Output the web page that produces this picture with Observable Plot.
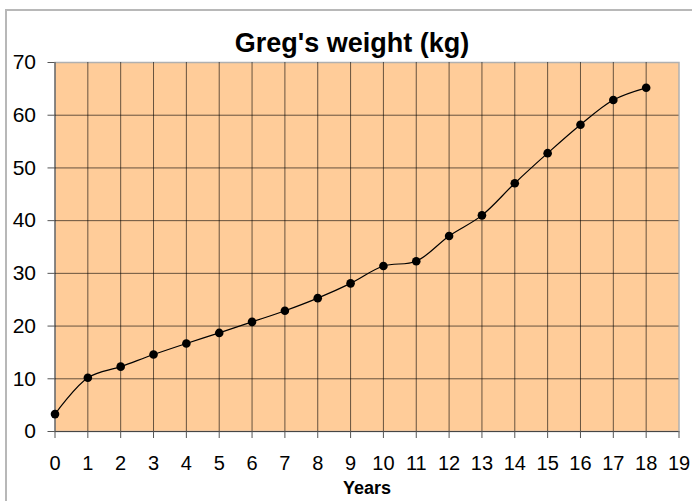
<!DOCTYPE html>
<html>
<head>
<meta charset="utf-8">
<script src="https://cdn.jsdelivr.net/npm/d3@7"></script>
<script src="https://cdn.jsdelivr.net/npm/@observablehq/plot@0.6"></script>
<style>
  html, body { margin: 0; padding: 0; background: #fff; }
  #wrap { position: relative; width: 692px; height: 501px; overflow: hidden; }
  #border { position: absolute; left: 5px; top: 9px; width: 720px; height: 520px;
            border-left: 2px solid #b8b8b8; border-top: 2px solid #b8b8b8; }
  #chart { position: absolute; left: 0; top: 0; }
  svg { font-family: "Liberation Sans", Arial, sans-serif; }
</style>
</head>
<body>
<div id="wrap"><div id="border"></div><div id="chart"></div></div>
<script>
const years = [0, 1, 2, 3, 4, 5, 6, 7, 8, 9, 10, 11, 12, 13, 14, 15, 16, 17, 18];
const weights = [3.3, 10.2, 12.3, 14.6, 16.7, 18.7, 20.8, 22.9, 25.3, 28.1, 31.4, 32.3, 37.1, 41.0, 47.1, 52.8, 58.2, 62.9, 65.2];
const xTicks = d3.range(0, 20);
const yTicks = [0, 10, 20, 30, 40, 50, 60, 70];
const title = "Greg's weight (kg)";
const xLabel = "Years";

const data = years.map((y, i) => ({year: y, weight: weights[i]}));

const chart = Plot.plot({
  width: 692,
  height: 501,
  marginLeft: 54.5,
  marginRight: 13.5,
  marginTop: 62,
  marginBottom: 70,
  style: {fontFamily: '"Liberation Sans", Arial, sans-serif', background: "transparent", overflow: "visible"},
  x: {domain: [0, 19]},
  y: {domain: [0, 70]},
  marks: [
    Plot.frame({fill: "#FFCC99", stroke: "#b0b0b0", strokeWidth: 1.5}),
    Plot.gridX(xTicks.filter(d => d < 19), {stroke: "#000", strokeOpacity: 0.6, strokeWidth: 1}),
    Plot.gridY(yTicks.filter(d => d < 70), {stroke: "#000", strokeOpacity: 0.6, strokeWidth: 1}),
    Plot.axisX({ticks: xTicks, tickSize: 7, tickPadding: 17, stroke: "#555", fontSize: 20, fill: "#000", label: null, tickFormat: d => String(d)}),
    Plot.axisY({ticks: yTicks, tickSize: 7, tickPadding: 12, stroke: "#555", fontSize: 21, fill: "#000", label: null, tickFormat: d => String(d)}),
    Plot.line(data, {x: "year", y: "weight", curve: "catmull-rom", stroke: "#000", strokeWidth: 1.2}),
    Plot.dot(data, {x: "year", y: "weight", r: 4.3, fill: "#000", stroke: "none"}),
    Plot.text([title], {frameAnchor: "top", dx: -15, dy: -19, text: d => d, fontSize: 27, fontWeight: "bold", fill: "#000", lineAnchor: "middle"}),
    Plot.text([xLabel], {frameAnchor: "bottom", dx: 0, dy: 57, text: d => d, fontSize: 18, fontWeight: "bold", fill: "#000", lineAnchor: "middle"})
  ]
});
document.getElementById("chart").appendChild(chart);
</script>
</body>
</html>
